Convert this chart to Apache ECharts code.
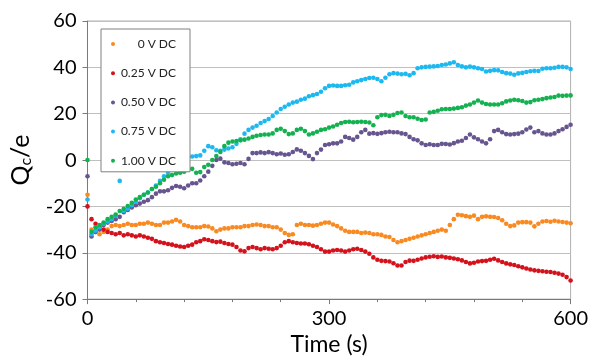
<!DOCTYPE html>
<html>
<head>
<meta charset="utf-8">
<script src="https://cdn.jsdelivr.net/npm/echarts@6/dist/echarts.min.js"></script>
<style>html,body{margin:0;padding:0;background:#fff}#c{width:591px;height:361px}</style>
</head>
<body>
<div id="c"></div>
<script>
const seriesNames = ['0 V DC', '0.25 V DC', '0.50 V DC', '0.75 V DC', '1.00 V DC'];
const timeStep = 5; // seconds between samples, t = 0 .. 600
const xTickLabels = [0, 300, 600];
const yTickLabels = [-60, -40, -20, 0, 20, 40, 60];

const v0V = [
 -15, -30, -31, -32, -31, -30, -28.5, -28, -28.5, -28,
 -27.5, -28, -28, -27.5, -27.5, -27, -27.5, -28, -28, -27,
 -27, -26.5, -25.8, -26.5, -28, -28.5, -29, -29, -29, -28.5,
 -28.7, -29.5, -30.7, -30, -29.5, -29.5, -29, -29, -29, -28.5,
 -28.5, -28, -27.8, -28, -28.5, -28.5, -29, -29, -30, -31.5,
 -32.3, -32, -28, -27.5, -28, -28, -28.3, -28, -27.5, -27,
 -27, -27.8, -28.5, -29.5, -30.5, -31, -31, -31, -31.5, -31.3,
 -31.5, -32, -32, -32.3, -33, -33.2, -34.5, -35.5, -35, -34.5,
 -34, -33.5, -33, -32.5, -32, -31.5, -31, -30.5, -30, -30.5,
 -28, -25.5, -23.6, -23.8, -24.2, -24.5, -24, -25.5, -24.5, -24.3,
 -24.5, -24.6, -25, -26, -27.5, -28.5, -28.2, -27, -26.8, -26.8,
 -27, -28.6, -27.5, -26.5, -26.3, -26.6, -26.2, -26.5, -26.7, -27,
 -27.3
];
const v025V = [
 -20, -25.5, -27.5, -29, -30, -31, -31.5, -32, -31.5, -32.5,
 -32, -32.5, -33, -32.5, -33, -33.5, -34, -35, -35.5, -35.8,
 -36.2, -36.5, -37, -37.3, -37.5, -37, -36.5, -35.5, -35, -34.2,
 -34.5, -35, -35.4, -35.2, -35.8, -36.2, -36.5, -37.5, -39, -39.4,
 -38, -37.5, -38, -38.5, -38, -38.3, -38.5, -38, -37, -35.5,
 -35, -35.5, -35.8, -36, -36, -36.3, -37, -37.5, -38.5, -39.5,
 -39.5, -39, -38.8, -39, -39.5, -39, -38.5, -38.3, -38.8, -39.5,
 -40.4, -42, -43, -43.5, -43.6, -43.8, -44.5, -45.5, -45.5, -44,
 -43.4, -43.5, -43, -42.5, -42, -41.7, -41.5, -41.8, -41.6, -42,
 -42.2, -42.5, -42.8, -43.3, -44, -44.6, -44.3, -43.8, -43.6, -43.5,
 -43, -42.6, -43.3, -44, -44.6, -45, -45.3, -45.8, -46.3, -46.8,
 -47.2, -47.6, -47.8, -48, -48.2, -48.3, -48.6, -49, -49.5, -50.5,
 -52
];
const v050V = [
 -7, -33, -31, -30, -28, -27, -26.3, -25.5, -24.5, -22.5,
 -21.5, -20.5, -19.5, -18.8, -18, -17.3, -16, -14.5, -13.5, -13.5,
 -13, -12, -11.2, -11.5, -12.2, -11, -10, -10, -8.8, -7,
 -5, -2.5, 0, 0.6, -1, -1.3, -1.8, -1.6, -1.3, -1.8,
 0.5, 3, 3, 3.3, 3, 3.4, 3, 2.5, 2.8, 2.3,
 2.5, 3.5, 4.6, 4, 3, 1.8, 0.4, 3, 4.5, 6.5,
 6.8, 7.2, 7.2, 8, 10, 9.5, 8.8, 10, 12, 13,
 11.4, 11.6, 11.3, 11.6, 12, 12.2, 12, 12, 11.5, 11.2,
 10, 9, 8.5, 7.2, 6.5, 6.8, 6.5, 6.5, 7, 6.9,
 6.7, 7.3, 8, 8.3, 9.5, 11, 9.8, 9, 8, 7.2,
 9, 12.5, 13, 12, 11.2, 11, 11.2, 11.4, 12, 13.2,
 14, 12, 12.5, 11.5, 11, 11, 11.5, 12.5, 13.3, 14.3,
 15.2
];
const v075V = [
 -17, -32, -30.5, -29, -27.5, -26.5, -25.5, -24, -9, -22,
 -21, -19.5, -18, -16.5, -15, -14, -12.5, -11, -9, -7,
 -5.5, -3.5, -1.5, 0.4, 0.8, 1.2, 1.5, 1.7, 2, 4,
 6, 5.5, 4.2, 4, 4.5, 5, 5.5, 7, 9, 11.4,
 13, 14, 14.8, 16, 16.8, 17.7, 19, 20.5, 22, 23,
 24, 24.8, 25.2, 26, 26.5, 27.5, 28, 28.5, 29.5, 31,
 32, 32.2, 32, 32, 32.3, 32.5, 33.5, 34, 34.5, 35,
 35.4, 35.5, 35, 34, 35.5, 37, 37.5, 37.3, 37, 37.2,
 36.6, 37.5, 39.6, 40, 40.2, 40.3, 40.4, 40.6, 41, 41.2,
 41.7, 42.2, 41, 40.4, 40, 40.3, 40, 39.6, 39.3, 38.2,
 38.5, 38.8, 38.7, 38, 37.5, 37.3, 36.8, 37.4, 37.6, 38,
 38.3, 38.5, 38.4, 39.4, 39.6, 39.6, 39.8, 40.2, 40.2, 40,
 39.3
];
const v100V = [
 0, -31, -29, -28, -27, -25.5, -24.5, -23.5, -22, -21,
 -19.8, -18.5, -17, -16, -15, -14, -12.5, -11.5, -10, -8.5,
 -7, -6.5, -5.8, -5.5, -5, -4.2, -3.8, -5.5, -5.2, -3,
 -2, 0, 1.7, 3.5, 6, 7.5, 8, 8.2, 8.5, 8.8,
 9.3, 10, 10.5, 10.8, 11, 11, 11.5, 13, 13.5, 12.5,
 11.2, 11.5, 13, 13.5, 12.5, 11, 11.5, 12.2, 13, 13.3,
 14, 14.5, 15.2, 16, 16.4, 16.5, 16.3, 16.4, 16.5, 16.4,
 16.2, 15, 18.5, 19.4, 19.5, 19, 19.5, 20.3, 20.5, 19,
 18.5, 18.5, 17.8, 17.3, 17.5, 20.5, 20.8, 21.3, 21.9, 22,
 22, 22.2, 22.5, 22.8, 23.5, 24, 24.8, 25.7, 24.8, 24.2,
 24, 24, 24, 24.5, 25.3, 25.7, 26, 25.8, 25.5, 24.8,
 25, 25.8, 26, 26.3, 26.7, 27, 27.2, 27.8, 27.7, 27.8,
 27.9
];

const allValues = [v0V, v025V, v050V, v075V, v100V];
const colors = ['#f98a22', '#d3121c', '#66558f', '#1cb8f0', '#14b150'];
const FONT = 'Lato, "Liberation Sans", sans-serif';

const chart = echarts.init(document.getElementById('c'), null, {renderer: 'canvas'});
const series = seriesNames.map((name, k) => ({
  name: name,
  type: 'scatter',
  symbol: 'circle',
  symbolSize: 4.6,
  itemStyle: {color: colors[k], opacity: 1},
  data: allValues[k].map((v, i) => [i * timeStep, v])
}));

chart.setOption({
  animation: false,
  backgroundColor: '#ffffff',
  grid: {left: 87, right: 15, top: 21, bottom: 55, show: true, borderColor: '#b0b0b0', borderWidth: 1, backgroundColor: 'transparent'},
  xAxis: {
    type: 'value', min: xTickLabels[0], max: xTickLabels[xTickLabels.length - 1], interval: 300,
    name: 'Time (s)', nameLocation: 'middle', nameGap: 33,
    nameTextStyle: {fontFamily: FONT, fontSize: 23, color: '#000'},
    axisLine: {show: true, onZero: false, lineStyle: {color: '#7a7a7a', width: 1}},
    axisTick: {show: true, length: 5, lineStyle: {color: '#7a7a7a'}},
    minorTick: {show: true, splitNumber: 5, length: 3, lineStyle: {color: '#7a7a7a'}},
    axisLabel: {fontFamily: FONT, fontSize: 20, color: '#000', margin: 9},
    splitLine: {show: false}
  },
  yAxis: {
    type: 'value', min: yTickLabels[0], max: yTickLabels[yTickLabels.length - 1], interval: 20,
    name: 'Q{sub|c}/e', nameLocation: 'middle', nameGap: 54, nameRotate: 90,
    nameTextStyle: {fontFamily: FONT, fontSize: 25, color: '#000',
      rich: {sub: {fontFamily: FONT, fontSize: 16, color: '#000', verticalAlign: 'bottom', padding: [10, 0, 0, 0]}}},
    axisLine: {show: true, onZero: false, lineStyle: {color: '#7a7a7a', width: 1}},
    axisTick: {show: true, length: 5, lineStyle: {color: '#7a7a7a'}},
    axisLabel: {fontFamily: FONT, fontSize: 20, color: '#000', margin: 11},
    splitLine: {show: true, lineStyle: {color: '#c0c0c0', width: 1}}
  },
  legend: {
    orient: 'vertical', left: 101, top: 29,
    backgroundColor: '#ffffff', borderColor: '#808080', borderWidth: 1,
    padding: [9, 14, 5, 10], itemGap: 17.2,
    itemWidth: 4, itemHeight: 4, icon: 'circle',
    formatter: n => '{t|' + n + '}',
    textStyle: {fontFamily: FONT, fontSize: 12, color: '#222',
      rich: {t: {fontFamily: FONT, fontSize: 12, color: '#222', width: 56, align: 'right'}}},
    data: seriesNames
  },
  series: series
});
</script>
</body>
</html>
